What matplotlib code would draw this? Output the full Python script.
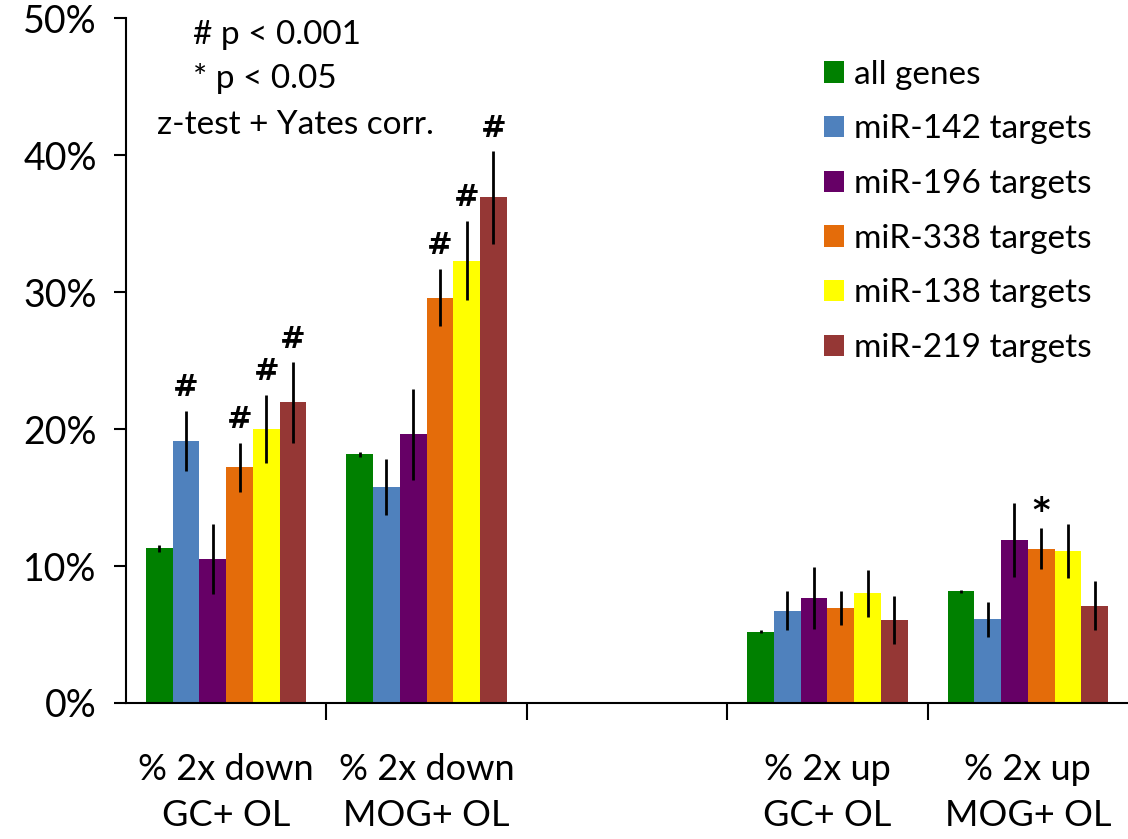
import matplotlib
matplotlib.use("Agg")
import matplotlib.pyplot as plt
import numpy as np

plt.rcParams['font.family'] = ['Lato', 'DejaVu Sans']

categories = ["% 2x down\nGC+ OL", "% 2x down\nMOG+ OL", "", "% 2x up\nGC+ OL", "% 2x up\nMOG+ OL"]
series = ["all genes", "miR-142 targets", "miR-196 targets", "miR-338 targets",
          "miR-138 targets", "miR-219 targets"]
colors = ["#008000", "#4f81bd", "#660066", "#e46c0a", "#ffff00", "#953735"]

# values (%) per series across categories (middle category empty)
all_genes = [11.3, 18.15, np.nan, 5.2, 8.15]
mir142 = [19.15, 15.75, np.nan, 6.75, 6.1]
mir196 = [10.5, 19.6, np.nan, 7.65, 11.9]
mir338 = [17.2, 29.6, np.nan, 6.95, 11.25]
mir138 = [20.0, 32.3, np.nan, 8.0, 11.1]
mir219 = [21.95, 36.9, np.nan, 6.05, 7.1]

err_all = [0.25, 0.2, np.nan, 0.1, 0.1]
err_142 = [2.2, 2.05, np.nan, 1.4, 1.3]
err_196 = [2.55, 3.35, np.nan, 2.25, 2.7]
err_338 = [1.8, 2.1, np.nan, 1.25, 1.5]
err_138 = [2.5, 2.9, np.nan, 1.7, 1.95]
err_219 = [2.95, 3.4, np.nan, 1.75, 1.8]

sig_all = ["", "", "", "", ""]
sig_142 = ["#", "", "", "", ""]
sig_196 = ["", "", "", "", ""]
sig_338 = ["#", "#", "", "", "*"]
sig_138 = ["#", "#", "", "", ""]
sig_219 = ["#", "#", "", "", ""]

values = [all_genes, mir142, mir196, mir338, mir138, mir219]
errors = [err_all, err_142, err_196, err_338, err_138, err_219]
sigs = [sig_all, sig_142, sig_196, sig_338, sig_138, sig_219]

yticks = [0, 10, 20, 30, 40, 50]
ytick_labels = ["0%", "10%", "20%", "30%", "40%", "50%"]

fig = plt.figure(figsize=(11.28, 8.39), dpi=100)
ax = fig.add_axes([0.1117, 0.1621, 0.8883, 0.8164])

x = np.arange(len(categories))
w = 0.1335
handles = []
for i, (vals, errs, sg, c, name) in enumerate(zip(values, errors, sigs, colors, series)):
    pos = x + (i - 2.5) * w
    b = ax.bar(pos, vals, width=w, color=c, label=name, zorder=2)
    ax.errorbar(pos, vals, yerr=errs, fmt='none', ecolor='black', elinewidth=2.0,
                capsize=0, zorder=3)
    handles.append(b)
    for p, v, e, s in zip(pos, vals, errs, sg):
        if s:
            fs = 22 if s == "#" else 24
            ax.annotate(s, (p, v + e), xytext=(0, 6 if s == "#" else 0),
                        textcoords='offset points', ha='center', va='bottom',
                        fontsize=fs, fontweight='bold', family='DejaVu Sans')

ax.set_xlim(-0.5, 4.5)
ax.set_ylim(0, 50)
ax.set_yticks(yticks)
ax.set_yticklabels(ytick_labels, fontsize=27)
ax.tick_params(axis='y', length=9, width=1.5, pad=12)

ax.set_xticks([0.5, 1.5, 2.5, 3.5])
ax.set_xticklabels([])
ax.tick_params(axis='x', which='major', length=12, width=1.5)
ax.set_xticks(x, minor=True)
ax.set_xticklabels(categories, minor=True, fontsize=26, linespacing=1.5)
ax.tick_params(axis='x', which='minor', length=0, pad=36)

for s in ['top', 'right']:
    ax.spines[s].set_visible(False)
for s in ['left', 'bottom']:
    ax.spines[s].set_linewidth(1.5)

ax.text(0.0669, 0.975, "# p < 0.001", transform=ax.transAxes, fontsize=24,
        ha='left', va='center')
ax.text(0.0669, 0.912, "* p < 0.05", transform=ax.transAxes, fontsize=24,
        ha='left', va='center')
ax.text(0.031, 0.844, "z-test + Yates corr.", transform=ax.transAxes, fontsize=24,
        ha='left', va='center')

leg = ax.legend(handles=handles, loc='upper left', bbox_to_anchor=(0.697, 0.939),
                frameon=False, fontsize=24, handlelength=0.6, handleheight=0.6,
                handletextpad=0.3, labelspacing=0.74, borderaxespad=0,
                borderpad=0)

fig.savefig("out.png", dpi=100)
